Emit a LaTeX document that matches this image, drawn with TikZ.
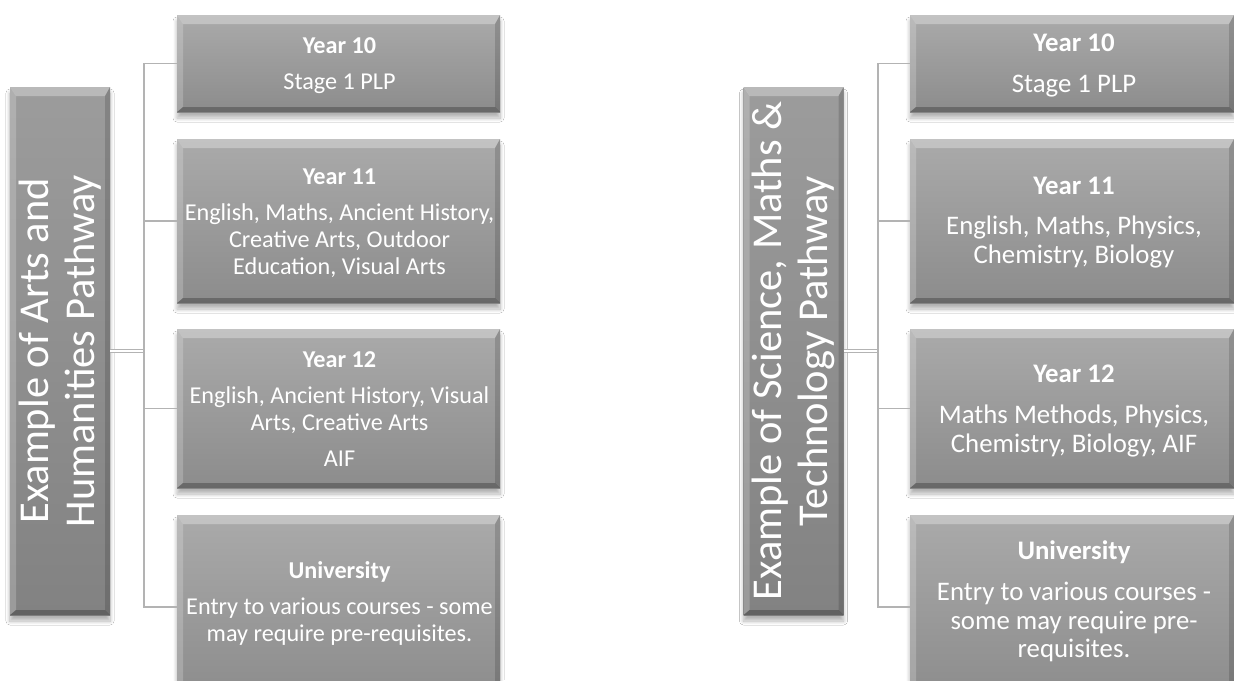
\documentclass[tikz,border=0pt]{standalone}
\usepackage{fontspec}
\setmainfont{Carlito}
\usetikzlibrary{shadows.blur}
\definecolor{boxtop}{HTML}{AAAAAA}
\definecolor{boxbot}{HTML}{8C8C8C}
\definecolor{talltop}{HTML}{9C9C9C}
\definecolor{tallbot}{HTML}{828282}
\definecolor{linecol}{HTML}{B3B3B3}
\tikzset{
  bevel/.style={path picture={
    \fill[white,opacity=0.30] (path picture bounding box.north west) -- (path picture bounding box.north east)
      -- ([xshift=-5pt,yshift=-9pt]path picture bounding box.north east) -- ([xshift=6pt,yshift=-9pt]path picture bounding box.north west) -- cycle;
    \fill[white,opacity=0.20] (path picture bounding box.north west) -- ([xshift=6pt,yshift=-9pt]path picture bounding box.north west)
      -- ([xshift=6pt,yshift=5pt]path picture bounding box.south west) -- (path picture bounding box.south west) -- cycle;
    \fill[black,opacity=0.25] (path picture bounding box.south west) -- (path picture bounding box.south east)
      -- ([xshift=-5pt,yshift=5pt]path picture bounding box.south east) -- ([xshift=6pt,yshift=5pt]path picture bounding box.south west) -- cycle;
    \fill[black,opacity=0.15] (path picture bounding box.north east) -- (path picture bounding box.south east)
      -- ([xshift=-5pt,yshift=5pt]path picture bounding box.south east) -- ([xshift=-5pt,yshift=-9pt]path picture bounding box.north east) -- cycle;
  }},
  softshadow/.style={blur shadow={shadow xshift=0pt, shadow yshift=-6pt, shadow blur steps=8, shadow blur radius=4pt, shadow opacity=30}},
  stagebox/.style={rectangle, inner sep=0pt, minimum width=323pt, top color=boxtop, bottom color=boxbot,
    bevel, softshadow},
  stagetext/.style={inner sep=0pt, text=white, align=center},
  leftfont/.style={font=\fontsize{24.2}{27}\selectfont},
  rightfont/.style={font=\fontsize{26.8}{28.8}\selectfont},
  tallbox/.style={rectangle, inner sep=0pt, minimum width=100pt, minimum height=528pt,
    top color=talltop, bottom color=tallbot, bevel, softshadow},
  talltext/.style={rotate=90, text=white, align=center, inner sep=0pt, font=\fontsize{42.5}{46.5}\selectfont},
  bracket/.style={draw=linecol, line width=1.5pt},
  dbl/.style={draw=linecol, double=white, double distance=2.2pt, line width=1.3pt},
}
\begin{document}
\begin{tikzpicture}[x=1pt,y=-1pt]
\useasboundingbox (0,0) rectangle (1234,680);
\fill[white] (0,0) rectangle (1234,680);
% ---------- left pathway ----------
\node[tallbox] (lt) at (60,351) {};
\node[talltext] (ltt) at (lt.center) {Example of Arts and\\Humanities Pathway};
\node[stagebox, minimum height=97pt] (l10) at (338.5,63.5) {};
\node[stagebox, minimum height=164pt] (l11) at (338.5,221) {};
\node[stagebox, minimum height=159pt] (l12) at (338.5,408.5) {};
\node[stagebox, minimum height=184pt] (lu) at (338.5,607) {};
\node[stagetext, leftfont] (l10t) at (339.5,65.5)
  {\textbf{Year 10}\\[9pt]Stage 1 PLP};
\node[stagetext, leftfont] (l11t) at (339.5,222.7)
  {\textbf{Year 11}\\[9pt]English, Maths, Ancient History,\\Creative Arts, Outdoor\\Education, Visual Arts};
\node[stagetext, leftfont] (l12t) at (339.5,408.7)
  {\textbf{Year 12}\\[9pt]English, Ancient History, Visual\\Arts, Creative Arts\\[9pt]AIF};
\node[stagetext, leftfont] (lut) at (339.5,603)
  {\textbf{University}\\[9pt]Entry to various courses - some\\may require pre-requisites.};
\coordinate (lj) at (144,351);
\draw[dbl] (lt.east) -- (lj);
\draw[bracket] (lj) |- (l10.west);
\draw[bracket] (lj) |- (l11.west);
\draw[bracket] (lj) |- (l12.west);
\draw[bracket] (lj) |- (lu.west);
% ---------- right pathway ----------
\node[tallbox] (rt) at (793.5,351) {};
\node[talltext] (rtt) at (rt.center) {Example of Science, Maths \&\\Technology Pathway};
\node[stagebox, minimum width=324pt, minimum height=97pt] (r10) at (1072,63.5) {};
\node[stagebox, minimum width=324pt, minimum height=164pt] (r11) at (1072,221) {};
\node[stagebox, minimum width=324pt, minimum height=159pt] (r12) at (1072,408.5) {};
\node[stagebox, minimum width=324pt, minimum height=184pt] (ru) at (1072,607) {};
\node[stagetext, rightfont] (r10t) at (1074,65.9)
  {\textbf{Year 10}\\[12pt]Stage 1 PLP};
\node[stagetext, rightfont] (r11t) at (1074,222.4)
  {\textbf{Year 11}\\[12pt]English, Maths, Physics,\\Chemistry, Biology};
\node[stagetext, rightfont] (r12t) at (1074,410.9)
  {\textbf{Year 12}\\[12pt]Maths Methods, Physics,\\Chemistry, Biology, AIF};
\node[stagetext, rightfont] (rut) at (1074,601.4)
  {\textbf{University}\\[12pt]Entry to various courses -\\some may require pre-\\requisites.};
\coordinate (rj) at (878,351);
\draw[dbl] (rt.east) -- (rj);
\draw[bracket] (rj) |- (r10.west);
\draw[bracket] (rj) |- (r11.west);
\draw[bracket] (rj) |- (r12.west);
\draw[bracket] (rj) |- (ru.west);
\end{tikzpicture}
\end{document}
